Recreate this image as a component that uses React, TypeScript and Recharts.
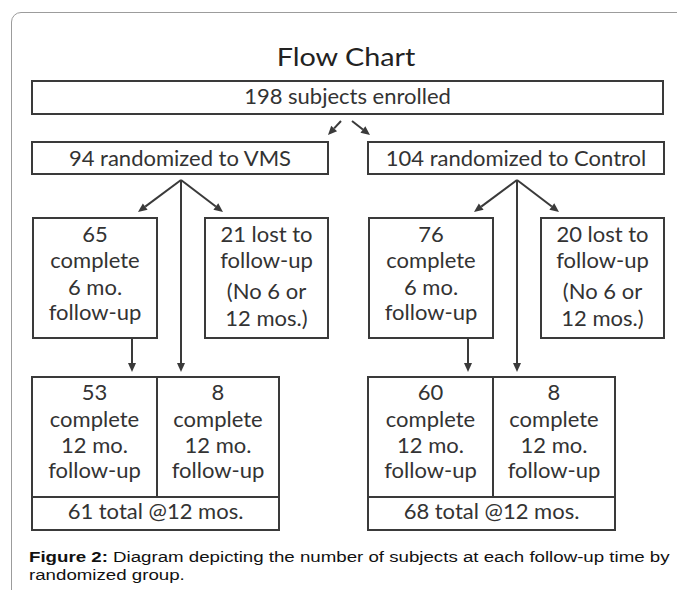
import React from 'react';
import { ComposedChart, XAxis, YAxis, ReferenceArea, ReferenceLine } from 'recharts';

// counts per step
const groups = ['VMS', 'Control'];
const enrolled = 198;
const randomized = [94, 104];
const complete6 = [65, 76];
const lost = [21, 20];
const complete12From6 = [53, 60];
const complete12Direct = [8, 8];
const total12 = [61, 68];

const W = 677;
const H = 590;
const BOX_FONT = 'Lato, "Open Sans", sans-serif';
const INK = '#3a3a3a';

// diagram layout in page pixels (left group; right group shifted by groupShift)
const groupShift = [0, 336];
const layout = {
  top: { x1: 32, x2: 663, y1: 81, y2: 114 },
  rand: { x1: 32, x2: 328, y1: 142, y2: 174 },
  six: { x1: 33, x2: 157, y1: 218, y2: 338 },
  lost: { x1: 205, x2: 328, y1: 218, y2: 338 },
  bottom: { x1: 32, x2: 279, y1: 377, y2: 530, split: 157, row: 497 },
  apex: { x: 181, y: 180 },
  arrowY: 212,
  leftTip: 138,
  rightTip: 223,
  downX: 132,
};

type VB = { x: number; y: number; width: number; height: number };

function BoxText({ viewBox, lines, offsets, size = 22 }: { viewBox?: VB; lines: string[]; offsets: number[]; size?: number }) {
  if (!viewBox) return null;
  const cx = viewBox.x + viewBox.width / 2;
  return (
    <text textAnchor="middle" fontFamily={BOX_FONT} fontSize={size} fill="#333">
      {lines.map((l, i) => (
        <tspan key={i} x={cx} y={viewBox.y + offsets[i]}>
          {l}
        </tspan>
      ))}
    </text>
  );
}

function Arrow(props: any) {
  const { x1, y1, x2, y2 } = props;
  const a = Math.atan2(y2 - y1, x2 - x1);
  const len = 9;
  const half = 4;
  const bx = x2 - len * Math.cos(a);
  const by = y2 - len * Math.sin(a);
  const px = -Math.sin(a) * half;
  const py = Math.cos(a) * half;
  return (
    <g>
      <line x1={x1} y1={y1} x2={bx} y2={by} stroke={INK} strokeWidth={2} />
      <polygon points={`${x2},${y2} ${bx + px},${by + py} ${bx - px},${by - py}`} fill={INK} />
    </g>
  );
}

const boxProps = { fill: '#fff', fillOpacity: 1, stroke: INK, strokeWidth: 2, ifOverflow: 'visible' as const };

function seg(a: [number, number], b: [number, number], key: string) {
  return (
    <ReferenceLine
      key={key}
      segment={[{ x: a[0], y: a[1] }, { x: b[0], y: b[1] }]}
      ifOverflow="visible"
      shape={(p: any) => <Arrow {...p} />}
    />
  );
}

export default function App() {
  const L = layout;
  const parts: React.ReactNode[] = [];

  groups.forEach((g, gi) => {
    const s = groupShift[gi];
    const b = L.bottom;
    parts.push(
      <ReferenceArea key={`r${gi}`} x1={L.rand.x1 + s} x2={L.rand.x2 + s} y1={L.rand.y1} y2={L.rand.y2} {...boxProps}
        label={<BoxText lines={[`${randomized[gi]} randomized to ${g}`]} offsets={[24]} />} />,
      <ReferenceArea key={`s${gi}`} x1={L.six.x1 + s} x2={L.six.x2 + s} y1={L.six.y1} y2={L.six.y2} {...boxProps}
        label={<BoxText lines={[`${complete6[gi]}`, 'complete', '6 mo.', 'follow-up']} offsets={[24, 50, 77, 102]} />} />,
      <ReferenceArea key={`l${gi}`} x1={L.lost.x1 + s} x2={L.lost.x2 + s} y1={L.lost.y1} y2={L.lost.y2} {...boxProps}
        label={<BoxText lines={[`${lost[gi]} lost to`, 'follow-up', '(No 6 or', '12 mos.)']} offsets={[24, 50, 81, 108]} />} />,
      <ReferenceArea key={`ba${gi}`} x1={b.x1 + s} x2={b.split + s} y1={b.y1} y2={b.row} {...boxProps}
        label={<BoxText lines={[`${complete12From6[gi]}`, 'complete', '12 mo.', 'follow-up']} offsets={[23, 50, 76, 101]} />} />,
      <ReferenceArea key={`bb${gi}`} x1={b.split + s} x2={b.x2 + s} y1={b.y1} y2={b.row} {...boxProps}
        label={<BoxText lines={[`${complete12Direct[gi]}`, 'complete', '12 mo.', 'follow-up']} offsets={[23, 50, 76, 101]} />} />,
      <ReferenceArea key={`bt${gi}`} x1={b.x1 + s} x2={b.x2 + s} y1={b.row} y2={b.y2} {...boxProps}
        label={<BoxText lines={[`${total12[gi]} total @12 mos.`]} offsets={[22]} />} />,
    );
    const ax = L.apex.x + s;
    parts.push(
      seg([ax, L.apex.y], [L.leftTip + s, L.arrowY], `al${gi}`),
      seg([ax, L.apex.y], [L.rightTip + s, L.arrowY], `ar${gi}`),
      seg([ax, L.apex.y], [ax, b.y1 - 5], `av${gi}`),
      seg([L.downX + s, L.six.y2], [L.downX + s, b.y1 - 5], `ad${gi}`),
    );
  });

  return (
    <div style={{ position: 'absolute', left: 0, top: 0, width: W, height: H, overflow: 'hidden', background: '#fff' }}>
      <div
        style={{
          position: 'absolute',
          left: 11,
          top: 12,
          width: 720,
          height: 640,
          border: '1px solid #9c9c9c',
          borderRadius: 10,
        }}
      />
      <div
        style={{
          position: 'absolute',
          left: 245.5,
          top: 36,
          width: 200,
          textAlign: 'center',
          fontFamily: BOX_FONT,
          fontSize: 25,
          color: '#222',
          lineHeight: '40px',
          transform: 'scaleX(1.15)',
          transformOrigin: 'center',
        }}
      >
        Flow Chart
      </div>
      <div style={{ position: 'absolute', left: 0, top: 0 }}>
        <ComposedChart width={W} height={H} margin={{ top: 0, right: 0, bottom: 0, left: 0 }}>
          <XAxis type="number" dataKey="x" domain={[0, W]} hide allowDataOverflow />
          <YAxis type="number" dataKey="y" domain={[0, H]} reversed hide allowDataOverflow />
          <ReferenceArea x1={L.top.x1} x2={L.top.x2} y1={L.top.y1} y2={L.top.y2} {...boxProps}
            label={<BoxText lines={[`${enrolled} subjects enrolled`]} offsets={[23]} />} />
          {parts}
          {seg([341, 121], [328, 135], 'e1')}
          {seg([352, 121], [370, 135], 'e2')}
        </ComposedChart>
      </div>
      <div
        style={{
          position: 'absolute',
          left: 29,
          top: 548,
          fontFamily: '"Liberation Sans", Arial, sans-serif',
          fontSize: 15.5,
          lineHeight: '18px',
          color: '#111',
          whiteSpace: 'nowrap',
          transform: 'scaleX(1.205)',
          transformOrigin: 'left top',
        }}
      >
        <b>Figure 2:</b> Diagram depicting the number of subjects at each follow-up time by
        <br />
        randomized group.
      </div>
    </div>
  );
}
